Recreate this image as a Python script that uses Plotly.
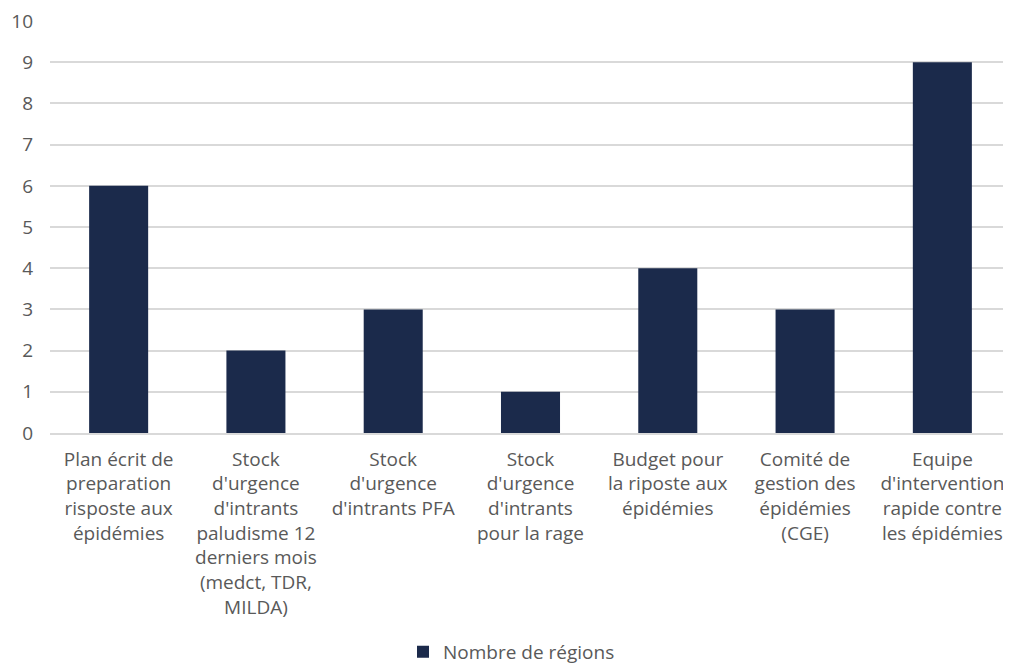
import plotly.graph_objects as go

categories = [
    "Plan écrit de<br>preparation<br>risposte aux<br>épidémies",
    "Stock<br>d'urgence<br>d'intrants<br>paludisme 12<br>derniers mois<br>(medct, TDR,<br>MILDA)",
    "Stock<br>d'urgence<br>d'intrants PFA",
    "Stock<br>d'urgence<br>d'intrants<br>pour la rage",
    "Budget pour<br>la riposte aux<br>épidémies",
    "Comité de<br>gestion des<br>épidémies<br>(CGE)",
    "Equipe<br>d'intervention<br>rapide contre<br>les épidémies",
]
values = [6, 2, 3, 1, 4, 3, 9]
y_ticks = [0, 1, 2, 3, 4, 5, 6, 7, 8, 9, 10]
series_name = "Nombre de régions"

FONT = "Open Sans, Lato, sans-serif"
TXT = "#595959"

fig = go.Figure()
fig.add_trace(go.Bar(
    x=categories, y=values, name=series_name,
    marker=dict(color="#1b2a4b", line=dict(width=0)),
    showlegend=True,
))

# the page body has an 8px margin, so the figure is sized to fit the window
fig.update_layout(
    width=1003, height=657,
    margin=dict(l=42, r=0, t=13, b=232),
    paper_bgcolor="white", plot_bgcolor="white",
    font=dict(family=FONT, size=19, color=TXT),
    bargap=0.57,
    showlegend=True,
    legend=dict(orientation="h", x=0.502, xanchor="center", xref="container",
                y=0.02, yanchor="middle", yref="container",
                font=dict(family=FONT, size=19, color=TXT),
                itemwidth=30, traceorder="normal"),
    xaxis=dict(showgrid=False, showline=True, linecolor="#d9d9d9", linewidth=1.5,
               ticks="", tickangle=0, automargin=False,
               tickfont=dict(family=FONT, size=19, color=TXT), ticklabelstandoff=8),
    yaxis=dict(range=[0, 10.002], tickmode="array", tickvals=y_ticks,
               showgrid=True, gridcolor="#d9d9d9", gridwidth=1.5,
               zeroline=False, showline=False, ticks="", automargin=False,
               ticklabeloverflow="allow",
               tickfont=dict(family=FONT, size=19, color=TXT), ticklabelstandoff=16),
)

fig.write_html("out.html")
